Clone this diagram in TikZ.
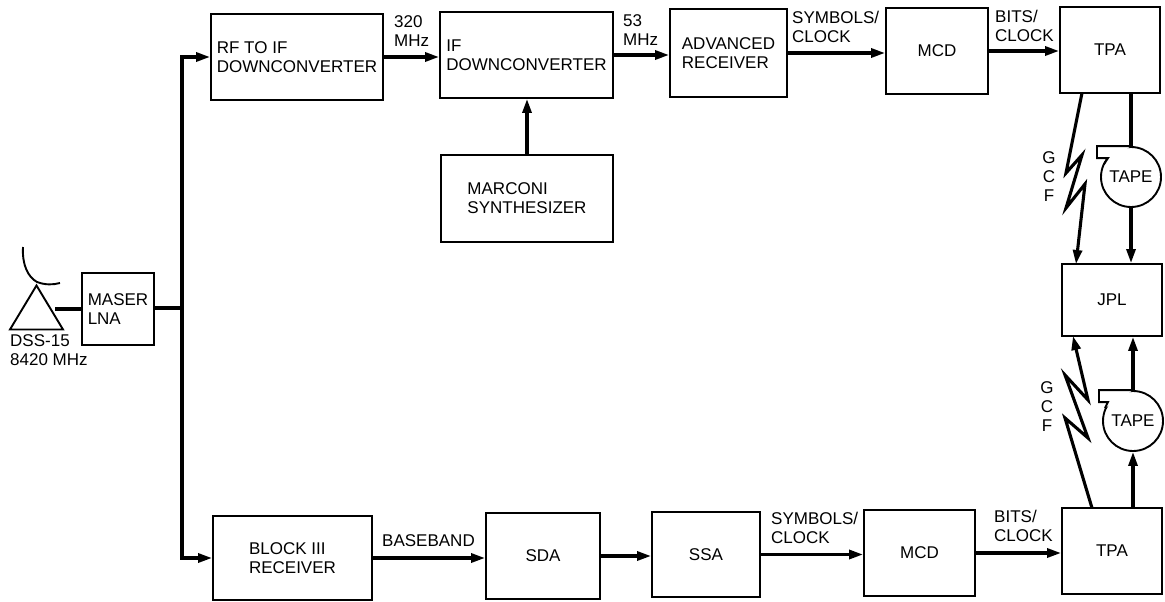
\documentclass[tikz,border=0pt]{standalone}
\usepackage{fontspec}
\setmainfont{Liberation Sans}
\usetikzlibrary{arrows.meta,shapes.geometric}
\tikzset{
  box/.style={rectangle, draw, line width=1.9pt, align=left, inner sep=0pt},
  tag/.style={align=left, inner sep=0pt, anchor=west},
  link/.style={line width=3.1pt},
  feed/.style={link, -{Stealth[length=14pt,width=9pt,inset=0pt]}},
  tape/.style={circle, draw, line width=1.9pt, minimum size=60pt, inner sep=0pt}
}
\begin{document}
\begin{tikzpicture}[x=1pt, y=-1pt, every node/.style={font=\fontsize{17}{19}\selectfont}]
  \useasboundingbox (0,0) rectangle (1165,602);

  \node[box, minimum width=72pt, minimum height=72pt] (maser) at (118,309) {MASER\\LNA};
  \node[isosceles triangle, draw, line width=1.9pt, shape border rotate=90, isosceles triangle stretches,
        minimum width=53pt, minimum height=44pt, inner sep=0pt, anchor=apex] (dss) at (36.5,283) {};
  \node[tag] (dsstag) at (10,350.5) {DSS-15\\8420 MHz};

  \node[box, minimum width=172pt, minimum height=86pt] (rf) at (297,57) {RF TO IF\\DOWNCONVERTER};
  \node[box, minimum width=173pt, minimum height=86pt] (ifd) at (526.5,55) {IF\\DOWNCONVERTER};
  \node[box, minimum width=172pt, minimum height=87pt] (marconi) at (527,198.5) {MARCONI\\SYNTHESIZER};
  \node[box, minimum width=117pt, minimum height=88pt] (adv) at (728.5,53) {ADVANCED\\RECEIVER};
  \node[box, minimum width=102pt, minimum height=86pt] (mcda) at (937,51) {MCD};
  \node[box, minimum width=100pt, minimum height=86pt] (tpaa) at (1110,50) {TPA};
  \node[box, minimum width=100pt, minimum height=72pt] (jpl) at (1112,300) {JPL};
  \node[tape] (tapea) at (1131,177) {TAPE};
  \node[tape] (tapeb) at (1133,421) {TAPE};

  \node[box, minimum width=159pt, minimum height=84pt] (block) at (292.5,558) {BLOCK III\\RECEIVER};
  \node[box, minimum width=114pt, minimum height=86pt] (sda) at (543,556) {SDA};
  \node[box, minimum width=108pt, minimum height=85pt] (ssa) at (706,554.5) {SSA};
  \node[box, minimum width=111pt, minimum height=86pt] (mcdb) at (919.5,553) {MCD};
  \node[box, minimum width=100pt, minimum height=86pt] (tpab) at (1112,551) {TPA};

  \node[tag] (mhza) at (394,31.5) {320\\MHz};
  \node[tag] (mhzb) at (623,30) {53\\MHz};
  \node[tag] (syma) at (792,27) {SYMBOLS/\\CLOCK};
  \node[tag] (bitsa) at (995,25.5) {BITS/\\CLOCK};
  \node[tag] (baseband) at (382,541) {BASEBAND};
  \node[tag] (symb) at (771,528) {SYMBOLS/\\CLOCK};
  \node[tag] (bitsb) at (994,526) {BITS/\\CLOCK};
  \node[inner sep=0pt, align=center] (gcfa) at (1049,177) {G\\C\\F};
  \node[inner sep=0pt, align=center] (gcfb) at (1047,407) {G\\C\\F};

  \coordinate (bus) at (182,308);
  \coordinate (dssout) at (55,309);
  \coordinate (gcfaup) at (1082,93);
  \coordinate (gcfadown) at (1076,264);
  \coordinate (gcfbup) at (1073,336);
  \coordinate (gcfbdown) at (1092,508);

  \draw[line width=1.9pt] (23,247) .. controls (22,265) and (28,277) .. (37,282) .. controls (45,285) and (53,285) .. (60,283);
  \draw[link] (dssout) -- (maser.west |- dssout);
  \draw[link] (maser.east |- bus) -- (bus);
  \draw[feed] (bus) |- (rf);
  \draw[feed] (bus) |- (block);

  \draw[feed] (rf) -- (ifd.west |- rf);
  \draw[feed] (ifd) -- (adv.west |- ifd);
  \draw[feed] (adv) -- (mcda.west |- adv);
  \draw[feed] (mcda) -- (tpaa.west |- mcda);
  \draw[feed] (marconi) -- (ifd.south -| marconi);

  \draw[feed] (block) -- (sda.west |- block);
  \draw[feed] (sda) -- (ssa.west |- sda);
  \draw[feed] (ssa) -- (mcdb.west |- ssa);
  \draw[feed] (mcdb) -- (tpab.west |- mcdb);

  \draw[link] (tpaa.south -| tapea) -- (tapea);
  \draw[feed] (tapea.south) -- (jpl.north -| tapea);
  \draw[feed] (tpab.north -| tapeb) -- (tapeb.south);
  \draw[feed] (tapeb.north) -- (jpl.south -| tapeb);

  \draw[line width=1.9pt, fill=white] (tapea.north) -- ++(-34,0) -- ++(0,12) -- ++(11,0) -- ++(-4,6);
  \draw[line width=1.9pt, fill=white] (tapeb.north) -- ++(-34,0) -- ++(0,12) -- ++(9,0) -- ++(-3,6);

  \draw[feed] (gcfaup) -- (1066,173) -- (1082,155) -- (1066,208) -- (1085,184) -- (gcfadown);
  \draw[feed] (gcfbdown) -- (1065,418) -- (1088,438) -- (1065,375) -- (1088,400) -- (gcfbup);
\end{tikzpicture}
\end{document}
